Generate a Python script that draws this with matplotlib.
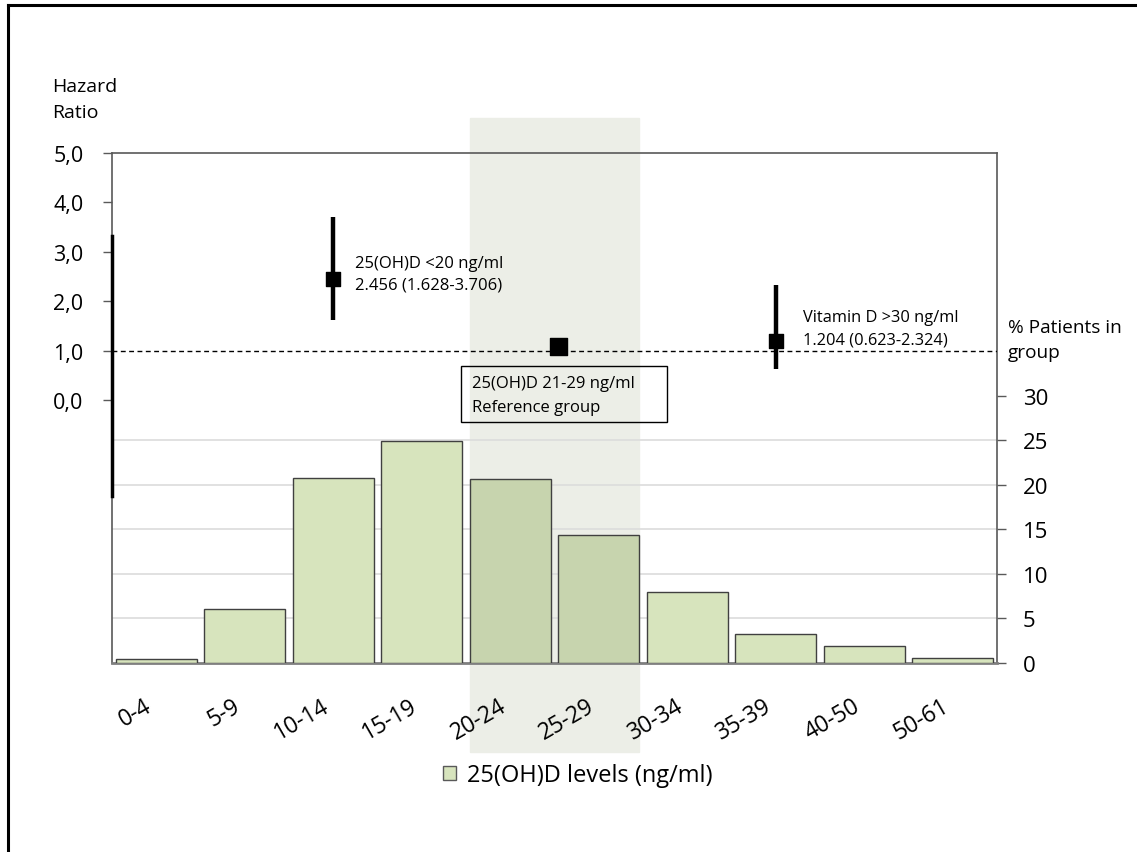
import numpy as np
import matplotlib
matplotlib.use('Agg')
import matplotlib.pyplot as plt
from matplotlib.patches import Patch, Rectangle
from matplotlib.lines import Line2D

plt.rcParams['font.family'] = ['Open Sans', 'DejaVu Sans']

# data
categories = ['0-4', '5-9', '10-14', '15-19', '20-24', '25-29',
              '30-34', '35-39', '40-50', '50-61']
pct_patients = [0.5, 6.1, 20.8, 24.9, 20.7, 14.4, 8.0, 3.3, 1.9, 0.6]
ref_band = [3.54, 5.46]          # shaded reference-group columns (20-24, 25-29)

hr_x = [2, 4.55, 7]
hr_val = [2.456, 1.09, 1.204]
hr_size = [100, 150, 100]
ci_x = [2, 7]
ci_low = [1.628, 0.623]
ci_high = [3.706, 2.324]
hr_ticks = [0, 1, 2, 3, 4, 5]
hr_ticklabels = ['0,0', '1,0', '2,0', '3,0', '4,0', '5,0']
pct_ticks = [0, 5, 10, 15, 20, 25, 30]
left_bar = [3.33, -1.95]

W, H = 1137, 853


def fx(px):
    return px / W


def fy(py):
    return 1 - py / H


fig = plt.figure(figsize=(11.37, 8.53), dpi=100)
ax = fig.add_axes([fx(112), fy(664), (997 - 112) / W, (664 - 154) / H])

x = np.arange(len(categories))
colors = ['#d7e4bd'] * len(categories)
colors[4] = colors[5] = '#c7d4ae'
ax.bar(x, pct_patients, width=0.915, color=colors, edgecolor='#404040',
       linewidth=1, zorder=3)
ax.set_xlim(-0.5, 9.5)
ax.set_ylim(0, 57.3)
for v in pct_ticks[1:-1]:
    ax.axhline(v, color='#dcdcdc', lw=1.2, zorder=1)
ax.axvspan(ref_band[0], ref_band[1], ymin=-0.1745, ymax=1.0686,
           color='#eceee7', zorder=0.5, clip_on=False)

ax.set_xticks(x)
ax.set_xticklabels(categories, rotation=30, ha='right')
ax.tick_params(axis='x', length=0, pad=22, labelsize=16.5)
for s in ['left', 'top', 'right']:
    ax.spines[s].set_color('#595959')
    ax.spines[s].set_linewidth(1.2)
ax.spines['bottom'].set_color('#7f7f7f')
ax.spines['bottom'].set_linewidth(2)

ax2 = ax.twinx()
ax2.set_ylim(-5.32, 5.0)
ax2.yaxis.set_ticks_position('left')
ax2.yaxis.set_label_position('left')
ax2.set_yticks(hr_ticks)
ax2.set_yticklabels(hr_ticklabels)
ax2.tick_params(axis='y', direction='out', length=6.5, width=1, pad=14,
                labelsize=15.5, color='#595959')
for s in ax2.spines.values():
    s.set_visible(False)

# percentage axis on the right (after twinx, which moves it left)
ax.yaxis.set_ticks_position('right')
ax.yaxis.set_label_position('right')
ax.set_yticks(pct_ticks)
ax.tick_params(axis='y', direction='out', length=6.5, width=1, pad=12,
               labelsize=16, color='#595959')

ax2.axhline(1.0, color='black', lw=1, ls=(0, (3.5, 2.5)), zorder=2)
ax2.vlines(ci_x, ci_low, ci_high, color='black', lw=3.2, zorder=4)
ax2.scatter(hr_x, hr_val, s=hr_size, marker='s', color='black', zorder=5)
ax2.plot([-0.5, -0.5], left_bar, color='black', lw=2.5, clip_on=False, zorder=5)


def line_text(px, py, s, size):
    fig.text(fx(px), fy(py), s, fontsize=size, va='baseline', ha='left')


line_text(52, 92, 'Hazard', 14)
line_text(52, 118, 'Ratio', 14)
line_text(355, 268, '25(OH)D <20 ng/ml', 12)
line_text(355, 290, '2.456 (1.628-3.706)', 12)
line_text(803, 322, 'Vitamin D >30 ng/ml', 11.8)
line_text(803, 345, '1.204 (0.623-2.324)', 11.8)
line_text(472, 388, '25(OH)D 21-29 ng/ml', 12)
line_text(472, 412, 'Reference group', 12)
line_text(1008, 333, '% Patients in', 13.7)
line_text(1008, 358, 'group', 13.7)

fig.add_artist(Rectangle((fx(461), fy(423)), (667 - 461) / W, (423 - 367) / H,
                         transform=fig.transFigure, facecolor='none',
                         edgecolor='black', lw=1))

fig.legend(handles=[Patch(facecolor='#d7e4bd', edgecolor='#595959', lw=1)],
           labels=['25(OH)D levels (ng/ml)'], loc='center',
           bbox_to_anchor=(fx(578), fy(776)), frameon=False, fontsize=17,
           handlelength=0.55, handleheight=0.55, handletextpad=0.45)

# outer frame (only left and top edges visible in the original)
fig.add_artist(Line2D([fx(8), fx(8)], [0, fy(6)], transform=fig.transFigure,
                      color='black', lw=2.2))
fig.add_artist(Line2D([fx(8), 1], [fy(6), fy(6)], transform=fig.transFigure,
                      color='black', lw=2.2))

fig.savefig('out.png', dpi=100)
